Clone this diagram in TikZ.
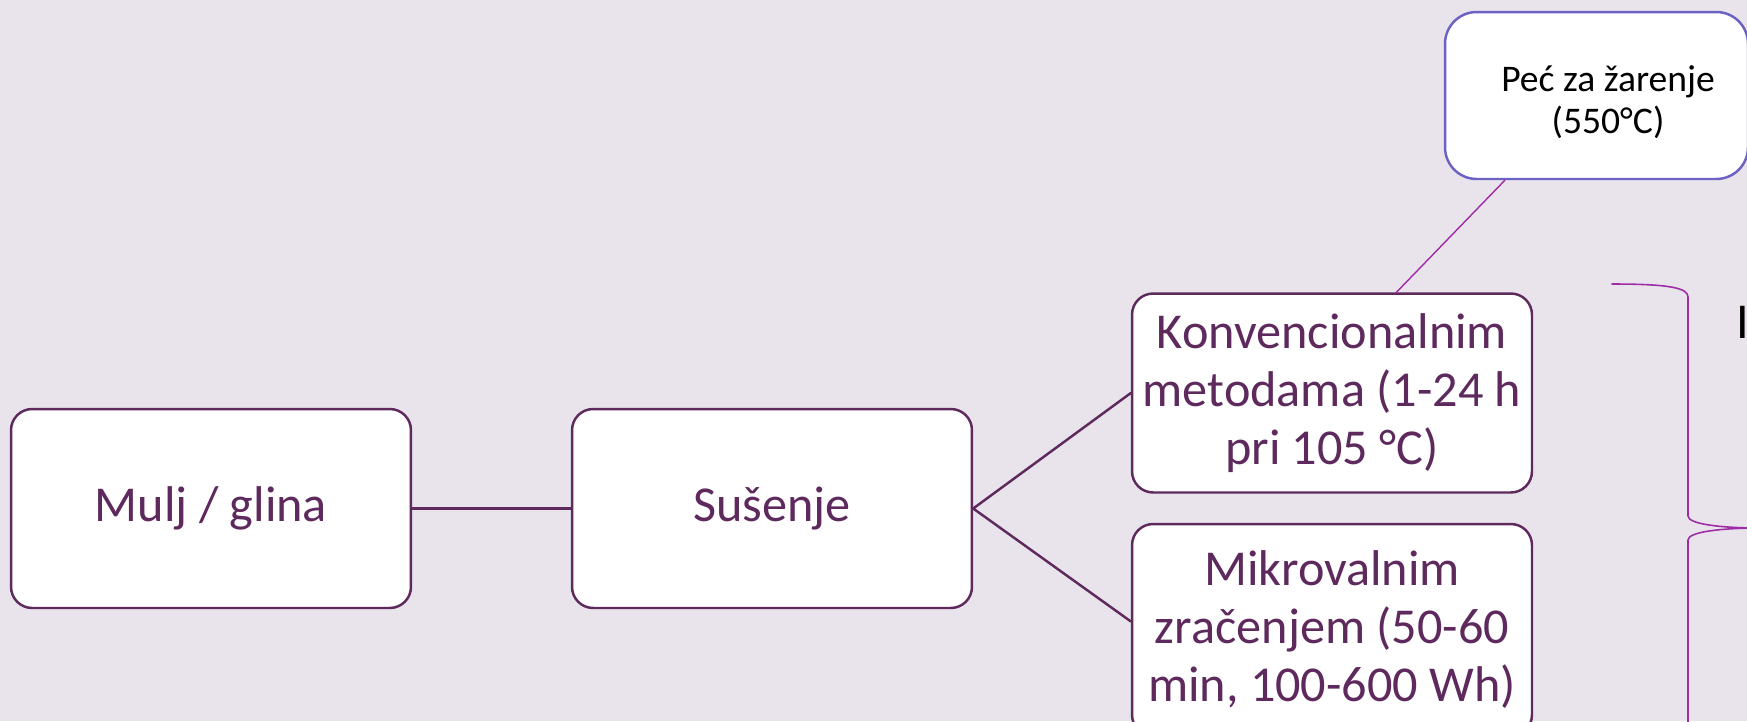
\documentclass[tikz,border=0pt]{standalone}
\usepackage{fontspec}
\setmainfont{Carlito}
\usetikzlibrary{calc}
\definecolor{bgcol}{RGB}{233,228,236}
\definecolor{plum}{RGB}{94,42,94}
\definecolor{slate}{RGB}{108,98,196}
\definecolor{orchid}{RGB}{158,44,164}
\begin{document}
\begin{tikzpicture}[x=0.02cm, y=-0.02cm, line join=round, line cap=round,
	box/.style={draw=plum, line width=1.4pt, fill=white, rounded corners=12pt, text=plum, align=center, inner sep=0pt},
	bigbox/.style={box, minimum width=8cm, minimum height=3.98cm, font=\fontsize{28.6}{34}\selectfont},
	sidebox/.style={box, minimum width=8cm, minimum height=3.98cm, font=\fontsize{28.6}{33}\selectfont},
	link/.style={draw=plum, line width=1.4pt}]
	\fill[bgcol] (0,0) rectangle (1747,721);
	\useasboundingbox (0,0) rectangle (1747,721);
	\clip (0,0) rectangle (1747,721);
	\node[bigbox] (mulj) at (211,508.5) {Mulj / glina};
	\node[bigbox] (susenje) at (772,508.5) {Sušenje};
	\node[sidebox] (konv) at (1332,393) {Konvencionalnim\\metodama (1-24 h\\pri 105 °C)};
	\node[sidebox, minimum height=4.24cm] (mikro) at (1332,630) {Mikrovalnim\\zračenjem (50-60\\min, 100-600 Wh)};
	\node[box, draw=slate, minimum width=6.06cm, minimum height=3.34cm, rounded corners=18pt] (pec) at (1596.5,95.5) {};
	\node[align=center, inner sep=0pt, font=\fontsize{21.4}{24}\selectfont] (pectxt) at (1608,102) {Peć za žarenje\\(550°C)};
	\draw[link] (mulj) -- (susenje);
	\draw[link] (susenje.east) -- (konv.west) (susenje.east) -- ($(mikro.north west)!0.46!(mikro.south west)$);
	\draw[orchid, line width=0.8pt] ($(konv.north west)!0.66!(konv.north east)$) -- ($(pec.south west)!0.2!(pec.south east)$);
	% zagrada desno
	\draw[orchid, line width=0.9pt] (1612,284) .. controls (1670,284) and (1688,288) .. (1688,297) -- (1688,516)
		.. controls (1688,524) and (1720,528) .. (1760,528) .. controls (1720,528) and (1688,532) .. (1688,540) -- (1688,730);
	\node[anchor=base west, inner sep=0pt, font=\fontsize{28.6}{31.9}\selectfont] (izv) at (1736,338) {I};
\end{tikzpicture}
\end{document}
